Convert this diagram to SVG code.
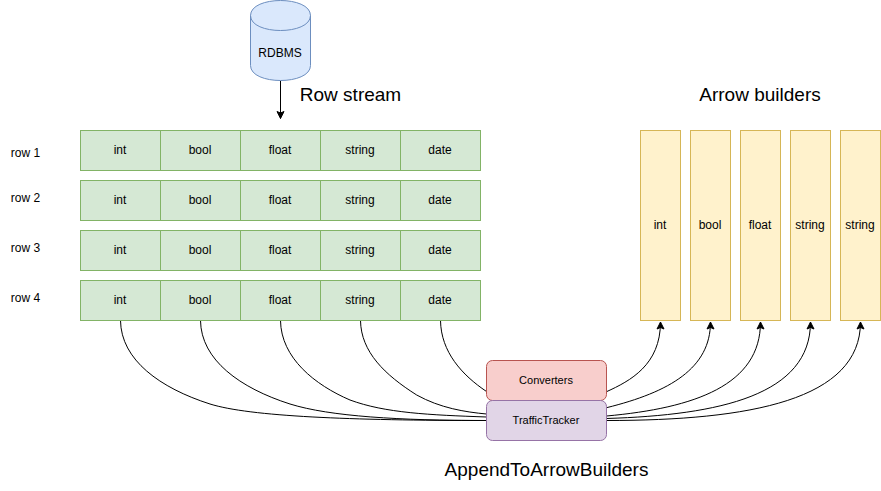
<svg xmlns="http://www.w3.org/2000/svg" width="881" height="491" viewBox="0 0 881 491">
<style>
text{font-family:"Liberation Sans",Arial,sans-serif;font-size:12px;fill:#000;text-anchor:middle}
.big{font-size:19px}
.small{font-size:11px}
.cell{fill:#d5e8d4;stroke:#82b366}
.col{fill:#fff2cc;stroke:#d6b656}
.c{fill:none;stroke:#000}
</style>
<defs>
<marker id="a" markerUnits="userSpaceOnUse" markerWidth="11" markerHeight="10" refX="8" refY="5" orient="auto"><path d="M1 1.500L8 5L1 8.500L2.500 5Z" fill="#000" stroke="#000" stroke-width="1"/></marker>
</defs>
<g id="connectors">
<path class="c" d="M280.500 80.500V118.500" marker-end="url(#a)"/>
<path class="c" d="M120.500 320.500C121 360 160 388 210 404C250 416.500 350 420.500 486.500 420.500"/>
<path class="c" d="M200.500 320.500C201 360 240 388 290 404C330 416.500 400 420.500 486.500 420.500"/>
<path class="c" d="M280.500 320.500C281 358 315 385 350 400C385 413 430 415 486.500 417"/>
<path class="c" d="M360.500 320.500C361 352 385 375 416.700 395C440 408 465 412 486.500 414"/>
<path class="c" d="M440.500 320.500C441 352 462 375 486.500 391.500"/>
<path class="c" d="M606.500 391.700C630 381 660.500 365 660.500 322" marker-end="url(#a)"/>
<path class="c" d="M606.500 407.700C670 392 710.500 368 710.500 322" marker-end="url(#a)"/>
<path class="c" d="M606.500 416C695 408 760.500 385 760.500 322" marker-end="url(#a)"/>
<path class="c" d="M606.500 418.500C720 415 810.500 395 810.500 322" marker-end="url(#a)"/>
<path class="c" d="M606.500 420.500C750 420.500 860.500 400 860.500 322" marker-end="url(#a)"/>
</g>
<g id="rdbms">
<path d="M250.500 15.500C250.500 -4.500 310.500 -4.500 310.500 15.500V65.500C310.500 85.500 250.500 85.500 250.500 65.500Z" fill="#dae8fc" stroke="#6c8ebf"/>
<path d="M250.500 15.500C250.500 35.500 310.500 35.500 310.500 15.500" fill="none" stroke="#6c8ebf"/>
<text x="280" y="57">RDBMS</text>
</g>
<g id="title-row"><text class="big" x="350.500" y="101">Row stream</text></g>
<g id="title-arrow"><text class="big" x="760" y="101">Arrow builders</text></g>
<g id="title-append"><text class="big" x="546.500" y="476">AppendToArrowBuilders</text></g>
<g id="row-labels">
<text x="25.500" y="157">row 1</text>
<text x="25.500" y="202">row 2</text>
<text x="25.500" y="252">row 3</text>
<text x="25.500" y="302">row 4</text>
</g>
<g id="row1">
<rect class="cell" x="80.500" y="130.500" width="80" height="40"/><rect class="cell" x="160.500" y="130.500" width="80" height="40"/><rect class="cell" x="240.500" y="130.500" width="80" height="40"/><rect class="cell" x="320.500" y="130.500" width="80" height="40"/><rect class="cell" x="400.500" y="130.500" width="80" height="40"/>
<text x="120" y="154">int</text><text x="200" y="154">bool</text><text x="280" y="154">float</text><text x="360" y="154">string</text><text x="440" y="154">date</text>
</g>
<g id="row2">
<rect class="cell" x="80.500" y="180.500" width="80" height="40"/><rect class="cell" x="160.500" y="180.500" width="80" height="40"/><rect class="cell" x="240.500" y="180.500" width="80" height="40"/><rect class="cell" x="320.500" y="180.500" width="80" height="40"/><rect class="cell" x="400.500" y="180.500" width="80" height="40"/>
<text x="120" y="204">int</text><text x="200" y="204">bool</text><text x="280" y="204">float</text><text x="360" y="204">string</text><text x="440" y="204">date</text>
</g>
<g id="row3">
<rect class="cell" x="80.500" y="230.500" width="80" height="40"/><rect class="cell" x="160.500" y="230.500" width="80" height="40"/><rect class="cell" x="240.500" y="230.500" width="80" height="40"/><rect class="cell" x="320.500" y="230.500" width="80" height="40"/><rect class="cell" x="400.500" y="230.500" width="80" height="40"/>
<text x="120" y="254">int</text><text x="200" y="254">bool</text><text x="280" y="254">float</text><text x="360" y="254">string</text><text x="440" y="254">date</text>
</g>
<g id="row4">
<rect class="cell" x="80.500" y="280.500" width="80" height="40"/><rect class="cell" x="160.500" y="280.500" width="80" height="40"/><rect class="cell" x="240.500" y="280.500" width="80" height="40"/><rect class="cell" x="320.500" y="280.500" width="80" height="40"/><rect class="cell" x="400.500" y="280.500" width="80" height="40"/>
<text x="120" y="304">int</text><text x="200" y="304">bool</text><text x="280" y="304">float</text><text x="360" y="304">string</text><text x="440" y="304">date</text>
</g>
<g id="builder-int"><rect class="col" x="640.500" y="130.500" width="40" height="190"/><text x="660" y="229">int</text></g>
<g id="builder-bool"><rect class="col" x="690.500" y="130.500" width="40" height="190"/><text x="710" y="229">bool</text></g>
<g id="builder-float"><rect class="col" x="740.500" y="130.500" width="40" height="190"/><text x="760" y="229">float</text></g>
<g id="builder-string1"><rect class="col" x="790.500" y="130.500" width="40" height="190"/><text x="810" y="229">string</text></g>
<g id="builder-string2"><rect class="col" x="840.500" y="130.500" width="40" height="190"/><text x="860" y="229">string</text></g>
<g id="converters"><rect x="486.500" y="360.500" width="120" height="40" rx="6" fill="#f8cecc" stroke="#b85450"/><text class="small" x="546" y="384">Converters</text></g>
<g id="traffic"><rect x="486.500" y="400.500" width="120" height="40" rx="6" fill="#e1d5e7" stroke="#9673a6"/><text class="small" x="546" y="424">TrafficTracker</text></g>
</svg>
